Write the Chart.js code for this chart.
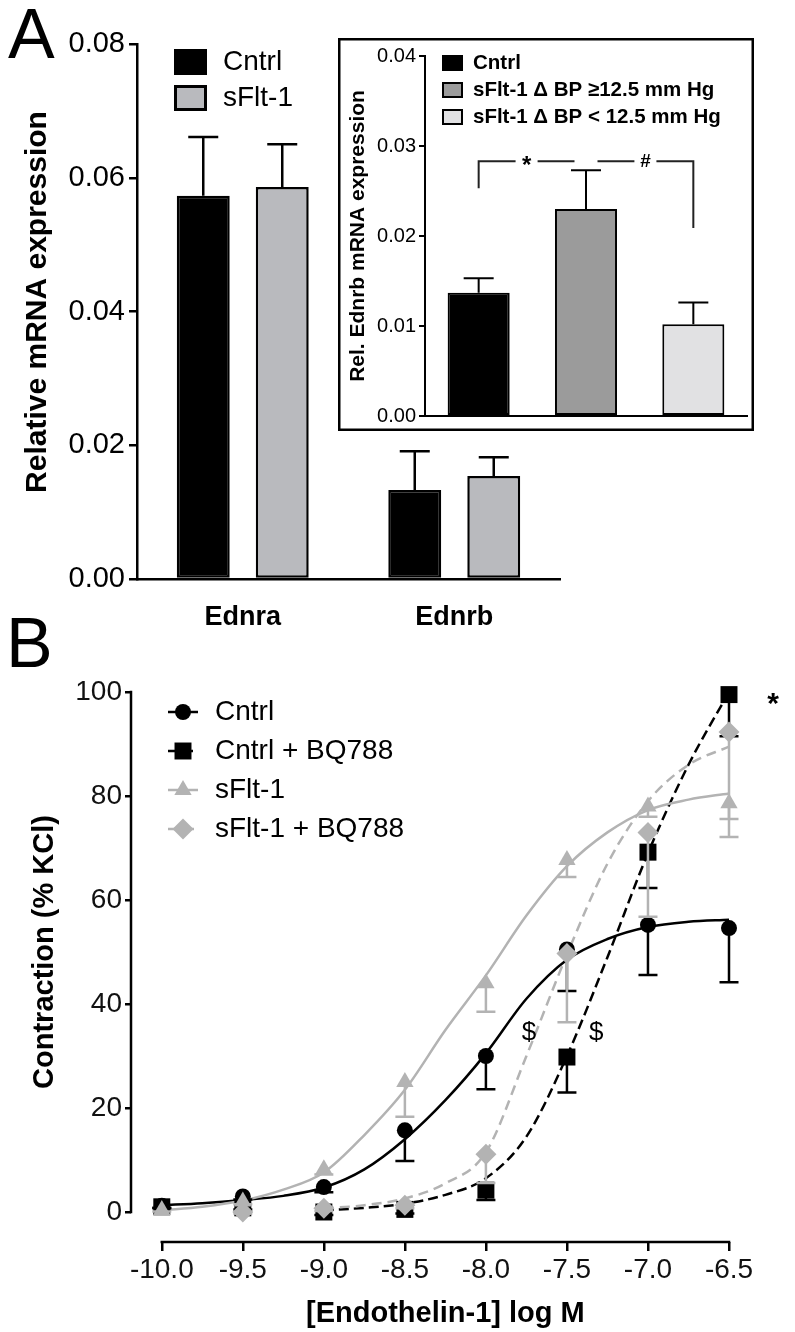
<!DOCTYPE html>
<html>
<head>
<meta charset="utf-8">
<script src="https://cdn.jsdelivr.net/npm/chart.js@4.4.1/dist/chart.umd.min.js"></script>
<style>
html,body{margin:0;padding:0;background:#fff;}
body{width:795px;height:1332px;position:relative;overflow:hidden;font-family:'Liberation Sans',Arial,sans-serif;}
canvas{position:absolute;display:block;}
.panel{position:absolute;font-size:70px;line-height:1;color:#000;font-family:'Liberation Sans',Arial,sans-serif;}
</style>
</head>
<body>
<canvas id="cB" width="795" height="732" style="left:0;top:600px"></canvas>
<canvas id="cA" width="600" height="640" style="left:0;top:0"></canvas>
<canvas id="cI" width="416" height="393" style="left:338px;top:38px"></canvas>
<div class="panel" style="left:8px;top:-1px">A</div>
<div class="panel" style="left:6px;top:608px">B</div>
<script>
const FAM = "'Liberation Sans', Arial, Helvetica, sans-serif";
Chart.defaults.font.family = FAM;
Chart.defaults.color = '#000';

// ---------- Panel A (main bars) ----------
const categoriesA = ['Ednra', 'Ednrb'];
const cntrlA = [0.0573, 0.0133];
const cntrlA_sem = [0.0088, 0.0058];
const sflt1A = [0.0586, 0.0154];
const sflt1A_sem = [0.0064, 0.0028];
const yTicksA = [0, 0.02, 0.04, 0.06, 0.08];

// ---------- Inset ----------
const insetCategories = ['Cntrl', 'sFlt-1 \u0394 BP \u226512.5 mm Hg', 'sFlt-1 \u0394 BP < 12.5 mm Hg'];
const insetValues = [0.0137, 0.0230, 0.0102];
const insetSem = [0.0016, 0.0043, 0.0024];
const yTicksInset = [0, 0.01, 0.02, 0.03, 0.04];
const sigPairs = [[0, 1], [1, 2]];
const sigText = ['*', '#'];
const sigTop = [0.0283, 0.0283];
const sigLeftEnd = [0.0253, 0.0283];
const sigRightEnd = [0.0283, 0.0209];

// ---------- Panel B ----------
const logConc = [-10, -9.5, -9, -8.5, -8, -7.5, -7, -6.5];
const xTicksB = [-10, -9.5, -9, -8.5, -8, -7.5, -7, -6.5];
const yTicksB = [0, 20, 40, 60, 80, 100];
const seriesB = ['Cntrl', 'Cntrl + BQ788', 'sFlt-1', 'sFlt-1 + BQ788'];
const cntrlB = [1.2, 3.0, 4.8, 15.7, 30.0, 50.5, 55.2, 54.6];
const cntrlB_sem = [0.4, 0.6, 1.0, 5.9, 6.4, 8.0, 9.6, 10.4];
const cntrlBQ = [1.0, 0.8, 0.0, 0.5, 4.2, 29.8, 69.2, 99.5];
const cntrlBQ_sem = [0.3, 0.3, 0.6, 0.8, 1.9, 6.8, 6.9, 8.0];
const sfltB = [0.4, 2.0, 8.2, 25.0, 44.0, 67.7, 78.0, 78.6];
const sfltB_sem = [0.3, 0.5, 1.0, 6.7, 5.5, 3.3, 2.0, 6.5];
const sfltBQ = [null, 0.0, 0.7, 1.3, 11.1, 49.7, 73.0, 92.3];
const sfltBQ_sem = [null, 0.3, 0.5, 0.6, 5.5, 13.2, 16.2, 16.7];
// fitted curves
const fitXSolid = [-10, -9.75, -9.5, -9.25, -9, -8.75, -8.5, -8.25, -8, -7.75, -7.5, -7.25, -7, -6.75, -6.5];
const cntrlFit = [1.3, 1.7, 2.3, 3.1, 4.7, 8.2, 14.0, 21.5, 30.5, 41.0, 48.5, 52.5, 54.8, 55.8, 56.2];
const sfltFit = [0.3, 1.0, 2.2, 4.3, 7.6, 14.8, 23.5, 35.0, 45.5, 57.0, 66.5, 73.0, 77.3, 79.3, 80.5];
const fitXDashed = [-9, -8.75, -8.5, -8.25, -8, -7.75, -7.5, -7.25, -7, -6.75, -6.5];
const cntrlBQFit = [0.3, 0.8, 1.6, 3.3, 6.5, 14.5, 30.0, 49.0, 69.0, 86.0, 100.0];
const sfltBQFit = [0.7, 1.3, 2.6, 5.5, 11.5, 30.0, 49.5, 67.0, 79.0, 86.0, 89.5];
const annText = ['$', '$', '*'];
const annX = [-7.735, -7.32, -6.228];
const annY = [34.4, 34.4, 97.5];

const GRAY_B = '#b3b3b3';

// ---------- plugins ----------
const barErrors = {
  id: 'barErrors',
  afterDatasetsDraw(chart, args, o) {
    const ctx = chart.ctx, ys = chart.scales.y;
    chart.data.datasets.forEach((ds, i) => {
      if (!ds.sem) return;
      chart.getDatasetMeta(i).data.forEach((bar, j) => {
        const yt = ys.getPixelForValue(ds.data[j] + ds.sem[j]);
        ctx.save();
        ctx.strokeStyle = '#000'; ctx.lineWidth = o.lineWidth;
        ctx.beginPath();
        ctx.moveTo(bar.x, bar.y); ctx.lineTo(bar.x, yt);
        ctx.moveTo(bar.x - o.cap, yt); ctx.lineTo(bar.x + o.cap, yt);
        ctx.stroke(); ctx.restore();
      });
    });
  }
};

const legendA = {
  id: 'legendA',
  afterDraw(chart, args, o) {
    const ctx = chart.ctx;
    chart.data.datasets.forEach((ds, i) => {
      const y = o.y0 + i * o.dy;
      ctx.save();
      ctx.fillStyle = ds.backgroundColor;
      ctx.fillRect(o.x, y - o.h / 2, o.w, o.h);
      ctx.lineWidth = o.lw; ctx.strokeStyle = '#000';
      ctx.strokeRect(o.x, y - o.h / 2, o.w, o.h);
      ctx.fillStyle = '#000'; ctx.font = o.font; ctx.textBaseline = 'middle';
      ctx.fillText(ds.label, o.tx, y);
      ctx.restore();
    });
    // y-axis title
    ctx.save();
    ctx.fillStyle = '#000'; ctx.textAlign = 'center'; ctx.textBaseline = 'middle';
    ctx.font = 'bold 30px ' + FAM;
    ctx.translate(o.titleX, o.titleY); ctx.rotate(-Math.PI / 2);
    ctx.fillText(o.yTitle, 0, 0);
    ctx.restore();
  }
};

const insetDeco = {
  id: 'insetDeco',
  beforeDraw(chart) {
    const ctx = chart.ctx, w = chart.width, h = chart.height;
    ctx.save();
    ctx.fillStyle = '#fff'; ctx.fillRect(0, 0, w, h);
    ctx.lineWidth = 2.5; ctx.strokeStyle = '#000';
    ctx.strokeRect(1.25, 1.25, w - 2.5, h - 2.5);
    ctx.restore();
  },
  afterDraw(chart, args, o) {
    const ctx = chart.ctx, ds = chart.data.datasets[0];
    chart.data.labels.forEach((lab, i) => {
      const y = o.y0 + i * o.dy;
      ctx.save();
      ctx.fillStyle = ds.backgroundColor[i];
      ctx.fillRect(o.x, y - o.h / 2, o.w, o.h);
      ctx.lineWidth = 2; ctx.strokeStyle = '#000';
      ctx.strokeRect(o.x, y - o.h / 2, o.w, o.h);
      ctx.fillStyle = '#000'; ctx.font = 'bold 20.5px ' + FAM; ctx.textBaseline = 'middle';
      ctx.fillText(lab, o.tx, y);
      ctx.restore();
    });
    const meta = chart.getDatasetMeta(0), ys = chart.scales.y;
    sigPairs.forEach((p, k) => {
      let xl = meta.data[p[0]].x, xr = meta.data[p[1]].x;
      if (p[0] === 1) xl += o.midGap;
      if (p[1] === 1) xr -= o.midGap;
      const yt = ys.getPixelForValue(sigTop[k]);
      const yl = ys.getPixelForValue(sigLeftEnd[k]);
      const yr = ys.getPixelForValue(sigRightEnd[k]);
      const xm = (xl + xr) / 2;
      ctx.save();
      ctx.strokeStyle = '#222'; ctx.lineWidth = 2;
      ctx.beginPath();
      ctx.moveTo(xl, yl); ctx.lineTo(xl, yt); ctx.lineTo(xm - o.textGap, yt);
      ctx.moveTo(xm + o.textGap, yt); ctx.lineTo(xr, yt); ctx.lineTo(xr, yr);
      ctx.stroke();
      ctx.fillStyle = '#000'; ctx.textAlign = 'center'; ctx.textBaseline = 'middle';
      if (sigText[k] === '*') { ctx.font = 'bold 24px ' + FAM; ctx.fillText('*', xm, yt + 5); }
      else { ctx.font = 'bold 19px ' + FAM; ctx.fillText(sigText[k], xm, yt); }
      ctx.restore();
    });
  }
};

const pointErrors = {
  id: 'pointErrors',
  beforeDatasetDraw(chart, args, o) {
    const ds = chart.data.datasets[args.index];
    if (!ds.errBars) return;
    const ctx = chart.ctx, ys = chart.scales.y;
    ctx.save();
    ctx.strokeStyle = ds.borderColor; ctx.lineWidth = o.lineWidth;
    args.meta.data.forEach((pt, j) => {
      const d = ds.data[j];
      const yl = ys.getPixelForValue(d.y - d.sem);
      ctx.beginPath();
      ctx.moveTo(pt.x, pt.y); ctx.lineTo(pt.x, yl);
      ctx.moveTo(pt.x - o.cap, yl); ctx.lineTo(pt.x + o.cap, yl);
      ctx.stroke();
    });
    ctx.restore();
  }
};

const decoB = {
  id: 'decoB',
  afterDraw(chart, args, o) {
    const ctx = chart.ctx, xs = chart.scales.x, ys = chart.scales.y, ca = chart.chartArea;
    ctx.save();
    ctx.strokeStyle = '#000'; ctx.lineWidth = 2.5;
    ctx.beginPath();
    const y0 = ys.getPixelForValue(yTicksB[0]), y1 = ys.getPixelForValue(yTicksB[yTicksB.length - 1]);
    ctx.moveTo(ca.left, y0 + 1.25); ctx.lineTo(ca.left, y1 - 1.25);
    const x0 = xs.getPixelForValue(xTicksB[0]), x1 = xs.getPixelForValue(xTicksB[xTicksB.length - 1]);
    ctx.moveTo(x0 - 1.25, ca.bottom); ctx.lineTo(x1 + 1.25, ca.bottom);
    ctx.stroke();
    ctx.fillStyle = '#000'; ctx.textAlign = 'center'; ctx.textBaseline = 'middle';
    ctx.font = 'bold 29px ' + FAM;
    ctx.fillText(o.xTitle, (x0 + x1) / 2, ca.bottom + 72);
    ctx.save();
    ctx.translate(45, (y0 + y1) / 2); ctx.rotate(-Math.PI / 2);
    ctx.fillText(o.yTitle, 0, 0);
    ctx.restore();
    annText.forEach((t, i) => {
      const px = xs.getPixelForValue(annX[i]), py = ys.getPixelForValue(annY[i]);
      ctx.font = (t === '*' ? 'bold 30px ' : '26px ') + FAM;
      ctx.fillText(t, px, py);
    });
    ctx.textAlign = 'left';
    ctx.font = '28px ' + FAM;
    const markerSets = chart.data.datasets.filter(d => d.errBars);
    markerSets.forEach((ds, i) => {
      const y = o.ly0 + i * o.ldy;
      ctx.save();
      ctx.strokeStyle = ds.borderColor; ctx.lineWidth = 2.5;
      if (ds.legendDash) ctx.setLineDash(ds.legendDash);
      ctx.beginPath(); ctx.moveTo(o.lx0, y); ctx.lineTo(o.lx1, y); ctx.stroke();
      ctx.setLineDash([]);
      ctx.fillStyle = ds.backgroundColor;
      Chart.helpers.drawPoint(ctx, {pointStyle: ds.pointStyle, radius: ds.pointRadius, rotation: 0, borderWidth: 0}, (o.lx0 + o.lx1) / 2, y);
      ctx.restore();
      ctx.fillStyle = '#000';
      ctx.fillText(ds.label, o.tx, y);
    });
    ctx.restore();
  }
};

// ---------- Chart A ----------
new Chart(document.getElementById('cA'), {
  type: 'bar',
  data: {
    labels: categoriesA,
    datasets: [
      {label: 'Cntrl', data: cntrlA, sem: cntrlA_sem, backgroundColor: '#000', borderColor: '#000', borderWidth: 2.5, borderSkipped: false},
      {label: 'sFlt-1', data: sflt1A, sem: sflt1A_sem, backgroundColor: '#b9babe', borderColor: '#000', borderWidth: 2.5, borderSkipped: false}
    ]
  },
  options: {
    responsive: false, animation: false, devicePixelRatio: 1, events: [],
    layout: {padding: {top: 44, right: 40, left: 0, bottom: 0}},
    datasets: {bar: {categoryPercentage: 0.747, barPercentage: 0.67}},
    plugins: {
      legend: {display: false}, tooltip: {enabled: false},
      barErrors: {lineWidth: 2.5, cap: 15},
      legendA: {x: 175.5, w: 30, h: 23, lw: 3, y0: 62, dy: 36, tx: 223, font: '28px ' + FAM,
                yTitle: 'Relative mRNA expression', titleX: 38, titleY: 302}
    },
    scales: {
      x: {
        grid: {display: false},
        border: {display: true, color: '#000', width: 2.5},
        ticks: {color: '#000', font: {size: 27, weight: 'bold'}, padding: 14},
        afterFit(s) { s.height = 61; }
      },
      y: {
        min: 0, max: 0.08,
        afterBuildTicks(s) { s.ticks = yTicksA.map(v => ({value: v})); },
        ticks: {callback: v => Number(v).toFixed(2), color: '#000', font: {size: 29}, padding: 4},
        grid: {drawOnChartArea: false, drawTicks: true, tickLength: 8, color: '#000', lineWidth: 2.5},
        border: {display: true, color: '#000', width: 2.5},
        afterFit(s) { s.width = 137; }
      }
    }
  },
  plugins: [barErrors, legendA]
});

// ---------- Inset ----------
new Chart(document.getElementById('cI'), {
  type: 'bar',
  data: {
    labels: insetCategories,
    datasets: [{
      label: 'Rel. Ednrb mRNA expression', data: insetValues, sem: insetSem,
      backgroundColor: ['#000000', '#9b9b9b', '#e1e1e3'], borderColor: '#000', borderWidth: 2, borderSkipped: false,
      categoryPercentage: 1, barPercentage: 0.578
    }]
  },
  options: {
    responsive: false, animation: false, devicePixelRatio: 1, events: [],
    layout: {padding: {top: 18, right: 7, left: 0, bottom: 0}},
    plugins: {
      legend: {display: false}, tooltip: {enabled: false},
      barErrors: {lineWidth: 2, cap: 15},
      insetDeco: {x: 105, w: 19, h: 14, y0: 25, dy: 27, tx: 135, midGap: 11.5, textGap: 11}
    },
    scales: {
      x: {
        ticks: {display: false}, grid: {display: false},
        border: {display: true, color: '#000', width: 2},
        afterFit(s) { s.height = 15; }
      },
      y: {
        min: 0, max: 0.04,
        afterBuildTicks(s) { s.ticks = yTicksInset.map(v => ({value: v})); },
        ticks: {callback: v => Number(v).toFixed(2), color: '#000', font: {size: 20}, padding: 3},
        grid: {drawOnChartArea: false, drawTicks: true, tickLength: 6, color: '#000', lineWidth: 2},
        border: {display: true, color: '#000', width: 2},
        title: {display: true, text: 'Rel. Ednrb mRNA expression', color: '#000', font: {size: 21, weight: 'bold'}, padding: {top: 7.4, bottom: 0}},
        afterFit(s) { s.width = 87; }
      }
    }
  },
  plugins: [barErrors, insetDeco]
});

// ---------- Chart B ----------
function pts(xs, ys, sems) {
  const out = [];
  xs.forEach((x, i) => { if (ys[i] !== null) out.push(sems ? {x: x, y: ys[i], sem: sems[i]} : {x: x, y: ys[i]}); });
  return out;
}
new Chart(document.getElementById('cB'), {
  type: 'scatter',
  data: {
    datasets: [
      {type: 'line', label: 'Cntrl fit', data: pts(fitXSolid, cntrlFit), borderColor: '#000', borderWidth: 2.5, pointRadius: 0, cubicInterpolationMode: 'monotone', fill: false, order: 8, clip: false},
      {type: 'line', label: 'Cntrl + BQ788 fit', data: pts(fitXDashed, cntrlBQFit), borderColor: '#000', borderWidth: 2.5, borderDash: [10, 5], pointRadius: 0, cubicInterpolationMode: 'monotone', fill: false, order: 7, clip: false},
      {type: 'line', label: 'sFlt-1 fit', data: pts(fitXSolid, sfltFit), borderColor: GRAY_B, borderWidth: 2.5, pointRadius: 0, cubicInterpolationMode: 'monotone', fill: false, order: 6, clip: false},
      {type: 'line', label: 'sFlt-1 + BQ788 fit', data: pts(fitXDashed, sfltBQFit), borderColor: GRAY_B, borderWidth: 2.5, borderDash: [10, 6], pointRadius: 0, cubicInterpolationMode: 'monotone', fill: false, order: 5, clip: false},
      {label: seriesB[0], data: pts(logConc, cntrlB, cntrlB_sem), errBars: true, pointStyle: 'circle', pointRadius: 8, backgroundColor: '#000', borderColor: '#000', borderWidth: 0, order: 4, clip: false},
      {label: seriesB[1], data: pts(logConc, cntrlBQ, cntrlBQ_sem), errBars: true, legendDash: [10, 5], pointStyle: 'rect', pointRadius: 12, backgroundColor: '#000', borderColor: '#000', borderWidth: 0, order: 3, clip: false},
      {label: seriesB[2], data: pts(logConc, sfltB, sfltB_sem), errBars: true, pointStyle: 'triangle', pointRadius: 10, backgroundColor: GRAY_B, borderColor: GRAY_B, borderWidth: 0, order: 2, clip: false},
      {label: seriesB[3], data: pts(logConc, sfltBQ, sfltBQ_sem), errBars: true, legendDash: [10, 6], pointStyle: 'rectRot', pointRadius: 10.5, backgroundColor: GRAY_B, borderColor: GRAY_B, borderWidth: 0, order: 1, clip: false}
    ]
  },
  options: {
    responsive: false, animation: false, devicePixelRatio: 1, events: [],
    layout: {padding: {top: 92, right: 66, left: 0, bottom: 0}},
    plugins: {
      legend: {display: false}, tooltip: {enabled: false},
      pointErrors: {lineWidth: 2.5, cap: 9.5},
      decoB: {xTitle: '[Endothelin-1] log M', yTitle: 'Contraction (% KCl)', lx0: 168, lx1: 198, ly0: 112, ldy: 39, tx: 215}
    },
    scales: {
      x: {
        type: 'linear', min: -10.19, max: -6.5,
        afterBuildTicks(s) { s.ticks = xTicksB.map(v => ({value: v})); },
        ticks: {callback: v => Number(v).toFixed(1), color: '#111', font: {size: 28}, padding: 2, autoSkip: false, maxRotation: 0},
        grid: {drawOnChartArea: false, drawTicks: true, tickLength: 9, color: '#000', lineWidth: 2.5},
        border: {display: false},
        afterFit(s) { s.height = 90; }
      },
      y: {
        type: 'linear', min: -5.77, max: 100,
        afterBuildTicks(s) { s.ticks = yTicksB.map(v => ({value: v})); },
        ticks: {color: '#111', font: {size: 28}, padding: 3},
        grid: {drawOnChartArea: false, drawTicks: true, tickLength: 6, color: '#000', lineWidth: 2.5},
        border: {display: false},
        afterFit(s) { s.width = 131; }
      }
    }
  },
  plugins: [pointErrors, decoB]
});
</script>
</body>
</html>
